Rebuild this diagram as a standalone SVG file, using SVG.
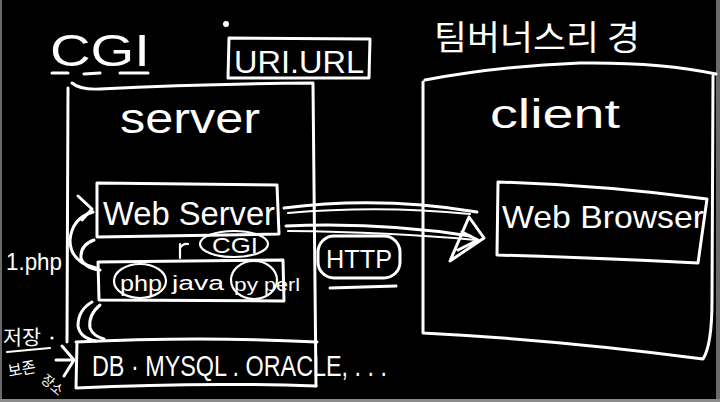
<svg xmlns="http://www.w3.org/2000/svg" width="720" height="402" viewBox="0 0 720 402">
<defs>
<style>
.ln{fill:none;stroke:#fff;stroke-width:3;stroke-linecap:round;stroke-linejoin:round}
.th{fill:none;stroke:#fff;stroke-width:2.2;stroke-linecap:round;stroke-linejoin:round}
.tx{fill:#fff;font-family:"Liberation Sans","Noto Sans CJK KR",sans-serif}
.kr{fill:#fff;font-family:"Noto Sans CJK KR",sans-serif}
</style>
</defs>
<rect width="720" height="402" fill="#000"/>
<rect x="0" y="0" width="2" height="402" fill="#6a6a6a"/>
<rect x="716" y="0" width="4" height="402" fill="#6a6a6a"/>
<rect x="0" y="399" width="720" height="3" fill="#8a8a8a"/>

<g id="title">
<text class="tx" x="50" y="66" font-size="44" textLength="100" lengthAdjust="spacingAndGlyphs">CGI</text>
<path class="ln" d="M52 73 L68 73 M84 74 L100 73 M120 73 L148 73"/>
</g>

<g id="uri">
<circle cx="226" cy="24" r="3" fill="#fff"/>
<path class="ln" d="M229 38 L370 39 L369 78 L228 78 Z"/>
<text class="tx" x="234" y="73" font-size="31" textLength="130" lengthAdjust="spacingAndGlyphs">URI.URL</text>
</g>

<g id="tbl">
<text class="kr" x="434" y="50" font-size="34" textLength="206" lengthAdjust="spacingAndGlyphs">팀버너스리 경</text>
</g>

<g id="server">
<path class="ln" d="M72 83 Q80 90 100 89 Q200 84 313 83 M68 88 L67 342 M313 84 L316 386"/>
<text class="tx" x="120" y="133" font-size="42" textLength="140" lengthAdjust="spacingAndGlyphs">server</text>
</g>

<g id="webserver">
<path class="ln" d="M97 183 L277 185 L279 234 L97 237 Z"/>
<text class="tx" x="103" y="225" font-size="34" textLength="172" lengthAdjust="spacingAndGlyphs">Web Server</text>
</g>

<g id="cgi">
<ellipse class="th" cx="234" cy="244" rx="34" ry="13"/>
<path class="th" d="M180 258 L180 244 M180 248 Q183 243 188 244"/>
<text class="tx" x="212" y="253" font-size="22" textLength="46" lengthAdjust="spacingAndGlyphs">CGI</text>
</g>

<g id="langs">
<path class="ln" d="M98 262 L283 260 L284 301 L99 300 Z"/>
<ellipse class="th" cx="140" cy="281" rx="26" ry="17"/>
<ellipse class="th" cx="254" cy="280" rx="23" ry="19"/>
<text class="tx" x="120" y="291" font-size="22" textLength="42" lengthAdjust="spacingAndGlyphs">php</text>
<text class="tx" x="172" y="290" font-size="20" textLength="52" lengthAdjust="spacingAndGlyphs">java</text>
<text class="tx" x="234" y="291" font-size="18" textLength="24" lengthAdjust="spacingAndGlyphs">py</text>
<text class="tx" x="264" y="291" font-size="18" textLength="36" lengthAdjust="spacingAndGlyphs">perl</text>
</g>

<g id="db">
<path class="ln" d="M76 342 Q200 336 317 342 M77 342 L76 388 Q200 382 316 386"/>
<text class="tx" x="92" y="376" font-size="30" textLength="295" lengthAdjust="spacingAndGlyphs">DB · MYSQL . ORACLE, . . .</text>
</g>

<g id="php-file">
<text class="tx" x="6" y="270" font-size="24" textLength="56" lengthAdjust="spacingAndGlyphs">1.php</text>
</g>

<g id="storage">
<text class="kr" x="3" y="345" font-size="20" textLength="38" lengthAdjust="spacingAndGlyphs">저장</text>
<circle cx="52" cy="338" r="1.6" fill="#fff"/>
<path class="th" d="M7 352 L50 348"/>
<text class="kr" x="8" y="375" font-size="16" transform="rotate(-10 20 370)" textLength="28" lengthAdjust="spacingAndGlyphs">보존</text>
<text class="kr" x="40" y="381" font-size="14" transform="rotate(40 40 381)" textLength="24" lengthAdjust="spacingAndGlyphs">장소</text>
</g>

<g id="client">
<path class="ln" d="M425 80 Q500 66 580 63 Q660 62 716 74 M423 82 L423 333 Q560 340 703 359 Q712 345 712 300 L713 76"/>
<text class="tx" x="490" y="128" font-size="40" textLength="130" lengthAdjust="spacingAndGlyphs">client</text>
</g>

<g id="webbrowser">
<path class="ln" d="M498 182 Q600 185 707 199 L698 263 Q600 258 497 255 Z"/>
<text class="tx" x="502" y="228" font-size="32" textLength="202" lengthAdjust="spacingAndGlyphs">Web Browser</text>
</g>

<g id="http">
<rect class="ln" x="318" y="236" width="82" height="42" rx="16"/>
<text class="tx" x="326" y="268" font-size="26" textLength="66" lengthAdjust="spacingAndGlyphs">HTTP</text>
<path class="ln" d="M330 288 L396 286"/>
</g>

<g id="connectors">
<path class="ln" stroke-width="5" d="M284 208 Q380 196 477 212"/>
<path class="th" d="M288 213 Q380 205 470 214"/>
<path class="ln" stroke-width="5" d="M286 226 Q380 222 470 236"/>
<path class="th" d="M288 231 Q390 232 476 240"/>
<path class="ln" d="M469 217 L484 238 L450 261 Z M462 232 L478 240 L458 250"/>
<path class="ln" d="M93 212 Q72 218 70 240 Q70 262 96 268"/>
<path class="ln" d="M94 240 Q80 245 81 258 Q84 268 100 270"/>
<path class="ln" d="M78 196 L92 209 L82 220"/>
<path class="ln" d="M92 302 Q78 310 78 326 Q80 338 96 341"/>
<path class="ln" d="M100 305 Q88 315 90 328 Q93 336 104 339"/>
<path class="ln" d="M62 346 L74 360 L64 376 M56 360 L74 360"/>
</g>
</svg>
